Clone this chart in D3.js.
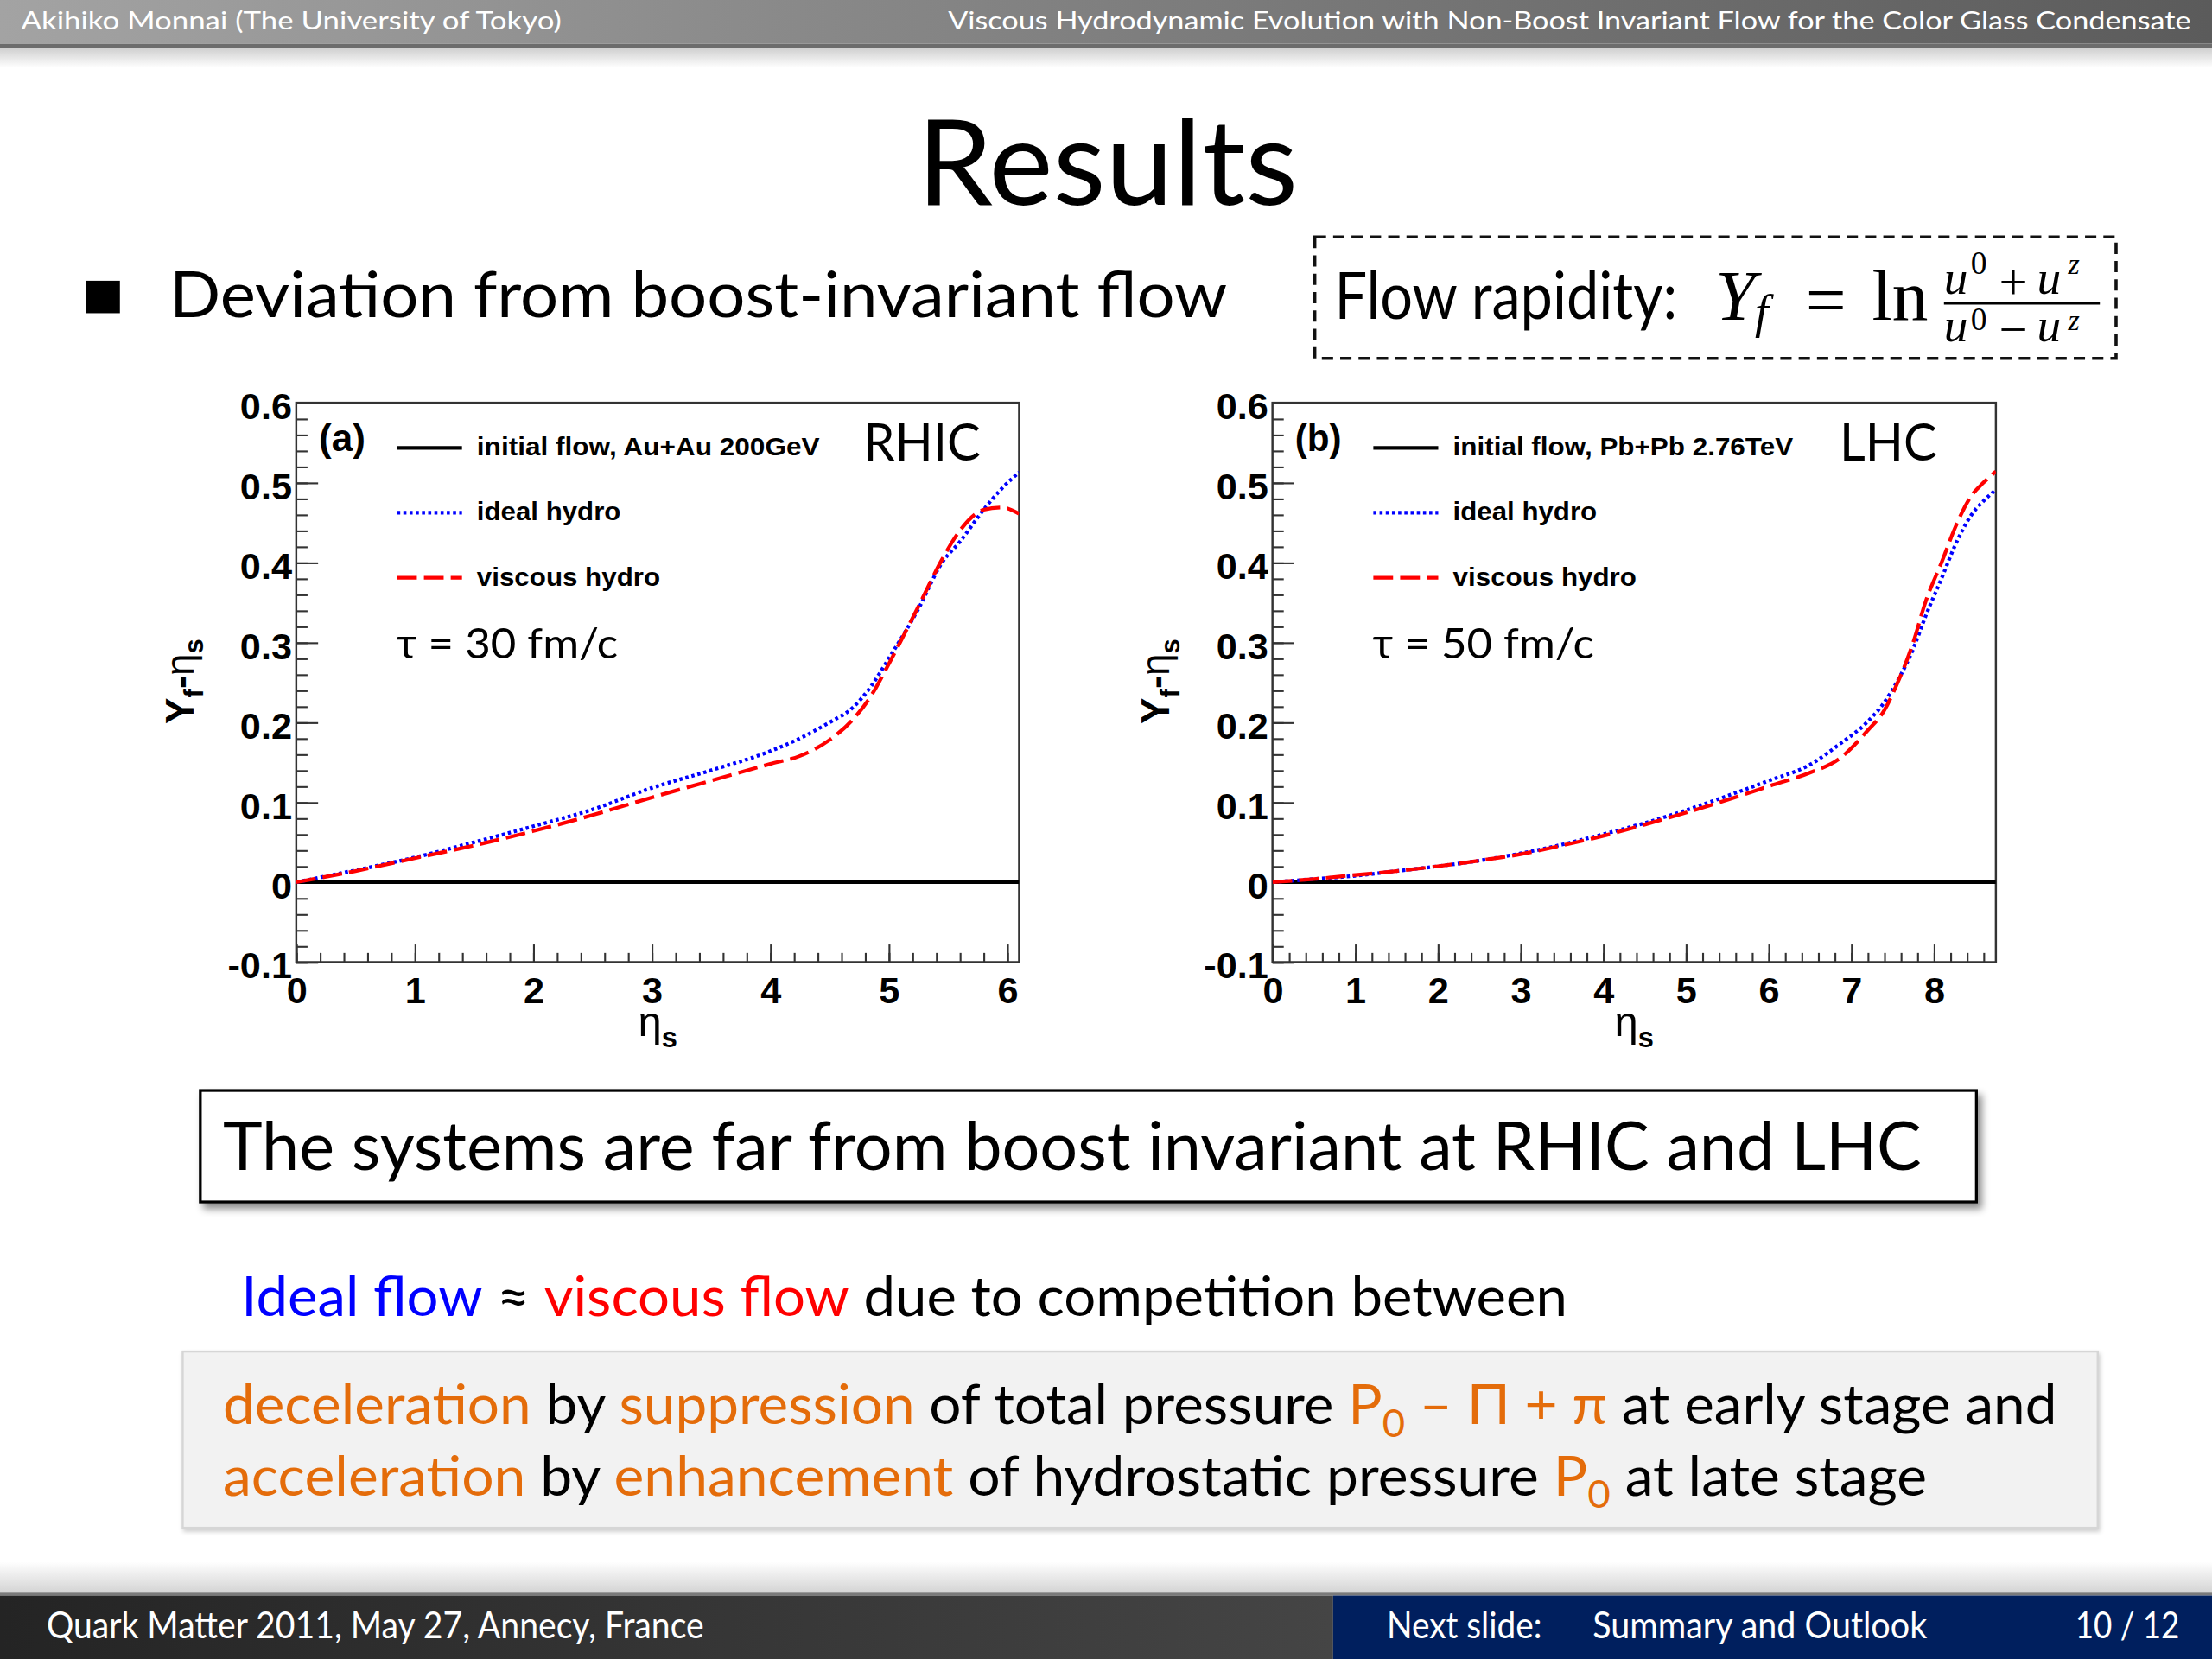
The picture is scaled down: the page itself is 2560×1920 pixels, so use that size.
<!DOCTYPE html>
<html>
<head>
<meta charset="utf-8">
<script src="https://cdn.jsdelivr.net/npm/d3@7"></script>
<style>
body { margin: 0; background: #fff; }
svg { display: block; }
</style>
</head>
<body>
<svg id="slide" width="2560" height="1920" viewBox="0 0 1568 1176"></svg>
<script>
// panel (a): RHIC, tau = 30 fm/c
let etaA = [0, 0.5, 1, 1.5, 2, 2.5, 3, 3.5, 4, 4.25, 4.5, 4.7, 4.85, 5, 5.25, 5.45, 5.6, 5.8, 5.95, 6.1]
let idealA = [0, 0.015, 0.031, 0.050, 0.070, 0.091, 0.118, 0.140, 0.164, 0.180, 0.200, 0.219, 0.245, 0.280, 0.342, 0.400, 0.426, 0.466, 0.492, 0.513]
let viscousA = [0, 0.014, 0.030, 0.046, 0.064, 0.084, 0.106, 0.127, 0.148, 0.158, 0.178, 0.204, 0.233, 0.273, 0.345, 0.404, 0.440, 0.466, 0.469, 0.461]
let etaInitA = [0, 6.1]
let initialA = [0, 0]

// panel (b): LHC, tau = 50 fm/c
let etaB = [0, 0.5, 1, 1.5, 2, 2.5, 3, 3.5, 4, 4.5, 5, 5.5, 6, 6.5, 6.85, 7.2, 7.4, 7.55, 7.75, 7.9, 8.1, 8.25, 8.45, 8.6, 8.75]
let idealB = [0, 0.004, 0.008, 0.014, 0.020, 0.027, 0.036, 0.047, 0.060, 0.074, 0.090, 0.108, 0.127, 0.147, 0.172, 0.201, 0.225, 0.250, 0.292, 0.333, 0.382, 0.420, 0.459, 0.477, 0.491]
let viscousB = [0, 0.004, 0.009, 0.014, 0.020, 0.027, 0.035, 0.046, 0.058, 0.072, 0.087, 0.103, 0.120, 0.137, 0.154, 0.190, 0.215, 0.247, 0.300, 0.351, 0.402, 0.442, 0.483, 0.500, 0.514]
let etaInitB = [0, 8.75]
let initialB = [0, 0]

let yTicks = [-0.1, 0, 0.1, 0.2, 0.3, 0.4, 0.5, 0.6]
let yTickLabels = ['-0.1', '0', '0.1', '0.2', '0.3', '0.4', '0.5', '0.6']
let xTicksA = [0, 1, 2, 3, 4, 5, 6]
let xTickLabelsA = ['0', '1', '2', '3', '4', '5', '6']
let xTicksB = [0, 1, 2, 3, 4, 5, 6, 7, 8]
let xTickLabelsB = ['0', '1', '2', '3', '4', '5', '6', '7', '8']
let legendNames = ['ideal hydro', 'viscous hydro']

const SLIDE = 'Lato, "Open Sans", sans-serif'
const ROOTF = '"Liberation Sans", Arial, sans-serif'
const SERIF = '"Liberation Serif", "DejaVu Serif", serif'
const ORANGE = '#e46c0a'

let svg = d3.select('#slide')
let defs = svg.append('defs')

let grad = (id, stops, vertical) => {
    let g = defs.append('linearGradient').attr('id', id)
        .attr('x1', 0).attr('y1', 0).attr('x2', vertical ? 0 : 1).attr('y2', vertical ? 1 : 0)
    stops.forEach((c, i) => g.append('stop').attr('offset', i / (stops.length - 1)).attr('stop-color', c))
}
grad('hdr', ['#a3a3a3', '#5b5b5b'])
grad('hdrShade', ['#cfcfcf', '#ffffff'], true)
grad('ftrShade', ['#ffffff', '#d4d4d4'], true)
grad('ftl', ['#242424', '#454545'])

let shadow = defs.append('filter').attr('id', 'shadow').attr('x', '-5%').attr('y', '-20%').attr('width', '110%').attr('height', '150%')
shadow.append('feDropShadow').attr('dx', 3).attr('dy', 4).attr('stdDeviation', 2.5).attr('flood-color', '#000').attr('flood-opacity', 0.45)
let softShadow = defs.append('filter').attr('id', 'soft').attr('x', '-5%').attr('y', '-20%').attr('width', '110%').attr('height', '150%')
softShadow.append('feDropShadow').attr('dx', 1).attr('dy', 2).attr('stdDeviation', 1.5).attr('flood-color', '#000').attr('flood-opacity', 0.2)

// text helper: fits the text to the width it has in the slide
let txt = (parent, x, y, s, size, o = {}) => {
    let t = parent.append('text')
        .attr('x', x).attr('y', y)
        .attr('font-family', o.font || SLIDE)
        .attr('font-size', size)
        .attr('font-weight', o.weight || 'normal')
        .attr('font-style', o.style || 'normal')
        .attr('fill', o.fill || '#000')
        .attr('text-anchor', o.anchor || 'start')
    if (s !== null) t.text(s)
    if (o.w) t.attr('textLength', o.w).attr('lengthAdjust', 'spacingAndGlyphs')
    return t
}
let span = (t, s, o = {}) => {
    let sp = t.append('tspan').text(s)
    if (o.fill) sp.attr('fill', o.fill)
    if (o.size) sp.attr('font-size', o.size)
    if (o.dy) sp.attr('dy', o.dy)
    if (o.weight) sp.attr('font-weight', o.weight)
    if (o.font) sp.attr('font-family', o.font)
    return sp
}

// header and footer
svg.append('rect').attr('x', 0).attr('y', 0).attr('width', 1568).attr('height', 31).attr('fill', 'url(#hdr)')
svg.append('rect').attr('x', 0).attr('y', 31).attr('width', 1568).attr('height', 3).attr('fill', '#6c6c6c')
svg.append('rect').attr('x', 0).attr('y', 34).attr('width', 1568).attr('height', 14).attr('fill', 'url(#hdrShade)')
txt(svg, 15, 21, 'Akihiko Monnai (The University of Tokyo)', 18, { fill: '#fff', w: 383 })
txt(svg, 672, 21, 'Viscous Hydrodynamic Evolution with Non-Boost Invariant Flow for the Color Glass Condensate', 18, { fill: '#fff', w: 881 })

svg.append('rect').attr('x', 0).attr('y', 1107).attr('width', 1568).attr('height', 22).attr('fill', 'url(#ftrShade)')
svg.append('rect').attr('x', 0).attr('y', 1129).attr('width', 1568).attr('height', 2).attr('fill', '#7a7a7a')
svg.append('rect').attr('x', 0).attr('y', 1131).attr('width', 945).attr('height', 45).attr('fill', 'url(#ftl)')
svg.append('rect').attr('x', 945).attr('y', 1131).attr('width', 623).attr('height', 45).attr('fill', '#001f5e')
txt(svg, 33, 1161.5, 'Quark Matter 2011, May 27, Annecy, France', 25.5, { fill: '#fff', w: 466 })
txt(svg, 983, 1161.5, 'Next slide:', 25.5, { fill: '#fff', w: 110 })
txt(svg, 1129, 1161.5, 'Summary and Outlook', 25.5, { fill: '#fff', w: 237 })
txt(svg, 1471, 1161.5, '10 / 12', 25.5, { fill: '#fff', w: 74 })

// title and bullet
txt(svg, 650, 145, 'Results', 84, { w: 270 })
svg.append('rect').attr('x', 61).attr('y', 199).attr('width', 24).attr('height', 23).attr('fill', '#000')
txt(svg, 120, 224.5, 'Deviation from boost-invariant flow', 45, { w: 750 })

// flow rapidity box
svg.append('rect').attr('x', 932).attr('y', 168).attr('width', 568).attr('height', 86)
    .attr('fill', 'none').attr('stroke', '#111').attr('stroke-width', 2.2).attr('stroke-dasharray', '8,5')
txt(svg, 946, 226, 'Flow rapidity:', 46, { w: 243 })
txt(svg, 1216, 226.5, 'Y', 51, { font: SERIF, style: 'italic' })
txt(svg, 1244, 232, 'f', 34, { font: SERIF, style: 'italic' })
txt(svg, 1280, 229.5, '=', 51, { font: SERIF })
txt(svg, 1327, 226.5, 'ln', 51, { font: SERIF })
svg.append('line').attr('x1', 1378).attr('x2', 1488.5).attr('y1', 215).attr('y2', 215).attr('stroke', '#000').attr('stroke-width', 1.8)
;[[208, 194, '+', 212], [242, 234, '\u2212', 245.5]].forEach(([b, sup, op, ob]) => {
    txt(svg, 1378, b, 'u', 34, { font: SERIF, style: 'italic' })
    txt(svg, 1397, sup, '0', 23, { font: SERIF })
    txt(svg, 1417, ob, op, 36, { font: SERIF })
    txt(svg, 1444, b, 'u', 34, { font: SERIF, style: 'italic' })
    txt(svg, 1466, sup, 'z', 21, { font: SERIF, style: 'italic' })
})

// panels
let yScale = d3.scaleLinear().domain([-0.1, 0.6]).range([682, 285.5])

let drawPanel = (p) => {
    let x = d3.scaleLinear().domain(p.domain).range(p.range)
    let g = svg.append('g')
    let x0 = p.range[0], x1 = p.range[1]
    let top = yScale(0.6), bottom = yScale(-0.1)

    let clipId = 'clip' + p.id
    defs.append('clipPath').attr('id', clipId).append('rect')
        .attr('x', x0).attr('y', top).attr('width', x1 - x0).attr('height', bottom - top)

    // minor ticks
    g.append('g').attr('transform', `translate(${x0},0)`)
        .call(d3.axisLeft(yScale).tickValues(d3.range(-0.1, 0.6001, 0.02)).tickSize(-8).tickFormat(''))
        .call(a => a.select('.domain').remove())
    g.append('g').attr('transform', `translate(0,${bottom})`)
        .call(d3.axisBottom(x).tickValues(d3.range(0, p.domain[1] + 0.001, 0.2)).tickSize(-6.5).tickFormat(''))
        .call(a => a.select('.domain').remove())

    // major ticks and labels
    g.append('g').attr('transform', `translate(${x0},0)`)
        .call(d3.axisLeft(yScale).tickValues(yTicks).tickSize(-15.5).tickPadding(3)
            .tickFormat((d, i) => yTickLabels[i]))
        .call(a => a.select('.domain').remove())
        .call(a => a.selectAll('text').attr('dy', '0.42em'))
    g.append('g').attr('transform', `translate(0,${bottom})`)
        .call(d3.axisBottom(x).tickValues(p.xTicks).tickSize(-12.5).tickPadding(10.5)
            .tickFormat((d, i) => p.xTickLabels[i]))
        .call(a => a.select('.domain').remove())
    g.selectAll('.tick line').attr('stroke', '#333').attr('stroke-width', 1.3)
    g.selectAll('.tick text').attr('font-family', ROOTF).attr('font-weight', 'bold')
        .attr('font-size', 26.5).attr('fill', '#000')

    g.append('rect').attr('x', x0).attr('y', top).attr('width', x1 - x0).attr('height', bottom - top)
        .attr('fill', 'none').attr('stroke', '#333').attr('stroke-width', 1.5)

    // curves
    let line = d3.line().x(d => x(d[0])).y(d => yScale(d[1])).curve(d3.curveMonotoneX)
    let curves = g.append('g').attr('clip-path', `url(#${clipId})`)
    curves.append('path').attr('d', line(d3.zip(p.etaInit, p.initial)))
        .attr('fill', 'none').attr('stroke', '#000').attr('stroke-width', 2.6)
    curves.append('path').attr('d', line(d3.zip(p.eta, p.ideal)))
        .attr('fill', 'none').attr('stroke', '#0000ff').attr('stroke-width', 2.6).attr('stroke-dasharray', '2.2,2.2')
    curves.append('path').attr('d', line(d3.zip(p.eta, p.viscous)))
        .attr('fill', 'none').attr('stroke', '#ff0000').attr('stroke-width', 2.6).attr('stroke-dasharray', '14,5')

    // legend
    txt(g, x0 + 16, 320, p.tag, 27, { font: ROOTF, weight: 'bold', w: 33 })
    let styles = [['#000', null], ['#0000ff', '2.2,2.2'], ['#ff0000', '14,5']]
    let names = [p.legendText].concat(legendNames)
    let widths = [p.legendW, 102, 130]
    names.forEach((n, i) => {
        let ly = 317.5 + i * 46
        g.append('line').attr('x1', x0 + 71.5).attr('x2', x0 + 117.5).attr('y1', ly).attr('y2', ly)
            .attr('stroke', styles[i][0]).attr('stroke-width', 2.6).attr('stroke-dasharray', styles[i][1])
        txt(g, x0 + 128, ly + 5.5, n, 17.5, { font: ROOTF, weight: 'bold', w: widths[i] })
    })
    txt(g, x0 + 402, 326.5, p.collider, 37, { w: p.colliderW })
    txt(g, x0 + 71, 466.5, p.tau, 30, { w: 157 })

    // axis titles
    let xt = txt(g, (x0 + x1) / 2, 734.5, null, 30, { font: ROOTF, anchor: 'middle' })
    span(xt, 'η')
    span(xt, 's', { size: 20, dy: 8, weight: 'bold' })
    let yt = txt(g, 0, 0, null, 28, { font: ROOTF, weight: 'bold', anchor: 'middle' })
        .attr('transform', `translate(${x0 - 73},483) rotate(-90)`)
    span(yt, 'Y')
    span(yt, 'f', { size: 19, dy: 7 })
    span(yt, '-', { dy: -7 })
    span(yt, 'η', { weight: 'normal' })
    span(yt, 's', { size: 19, dy: 7 })
}

drawPanel({
    id: 'a', tag: '(a)', domain: [0, 6.1], range: [210, 722.4], xTicks: xTicksA, xTickLabels: xTickLabelsA,
    eta: etaA, ideal: idealA, viscous: viscousA, etaInit: etaInitA, initial: initialA,
    legendText: 'initial flow, Au+Au 200GeV', legendW: 243,
    collider: 'RHIC', colliderW: 83, tau: 'τ = 30 fm/c'
})
drawPanel({
    id: 'b', tag: '(b)', domain: [0, 8.75], range: [902, 1414.8], xTicks: xTicksB, xTickLabels: xTickLabelsB,
    eta: etaB, ideal: idealB, viscous: viscousB, etaInit: etaInitB, initial: initialB,
    legendText: 'initial flow, Pb+Pb 2.76TeV', legendW: 241,
    collider: 'LHC', colliderW: 69, tau: 'τ = 50 fm/c'
})

// conclusion box
svg.append('rect').attr('x', 142).attr('y', 773).attr('width', 1259).attr('height', 79)
    .attr('fill', '#fff').attr('stroke', '#000').attr('stroke-width', 2).attr('filter', 'url(#shadow)')
txt(svg, 158, 829.5, 'The systems are far from boost invariant at RHIC and LHC', 47, { w: 1204 })

let l1 = txt(svg, 171, 933, null, 39, { w: 940 })
span(l1, 'Ideal flow', { fill: '#0000ff' })
span(l1, ' \u2248 ')
span(l1, 'viscous flow', { fill: '#ff0000' })
span(l1, ' due to competition between')

svg.append('rect').attr('x', 129.5).attr('y', 958).attr('width', 1357.5).attr('height', 125)
    .attr('fill', '#f2f2f2').attr('stroke', '#d6d6d6').attr('stroke-width', 1.5).attr('filter', 'url(#soft)')
let l2 = txt(svg, 158, 1009.5, null, 39, { w: 1300 })
span(l2, 'deceleration', { fill: ORANGE })
span(l2, ' by ')
span(l2, 'suppression', { fill: ORANGE })
span(l2, ' of total pressure ')
span(l2, 'P', { fill: ORANGE })
span(l2, '0', { fill: ORANGE, size: 27, dy: 9 })
span(l2, ' \u2013 \u03a0 + \u03c0', { fill: ORANGE, dy: -9 })
span(l2, ' at early stage and')
let l3 = txt(svg, 158, 1060, null, 39, { w: 1208 })
span(l3, 'acceleration', { fill: ORANGE })
span(l3, ' by ')
span(l3, 'enhancement', { fill: ORANGE })
span(l3, ' of hydrostatic pressure ')
span(l3, 'P', { fill: ORANGE })
span(l3, '0', { fill: ORANGE, size: 27, dy: 9 })
span(l3, ' at late stage', { dy: -9 })
</script>
</body>
</html>
